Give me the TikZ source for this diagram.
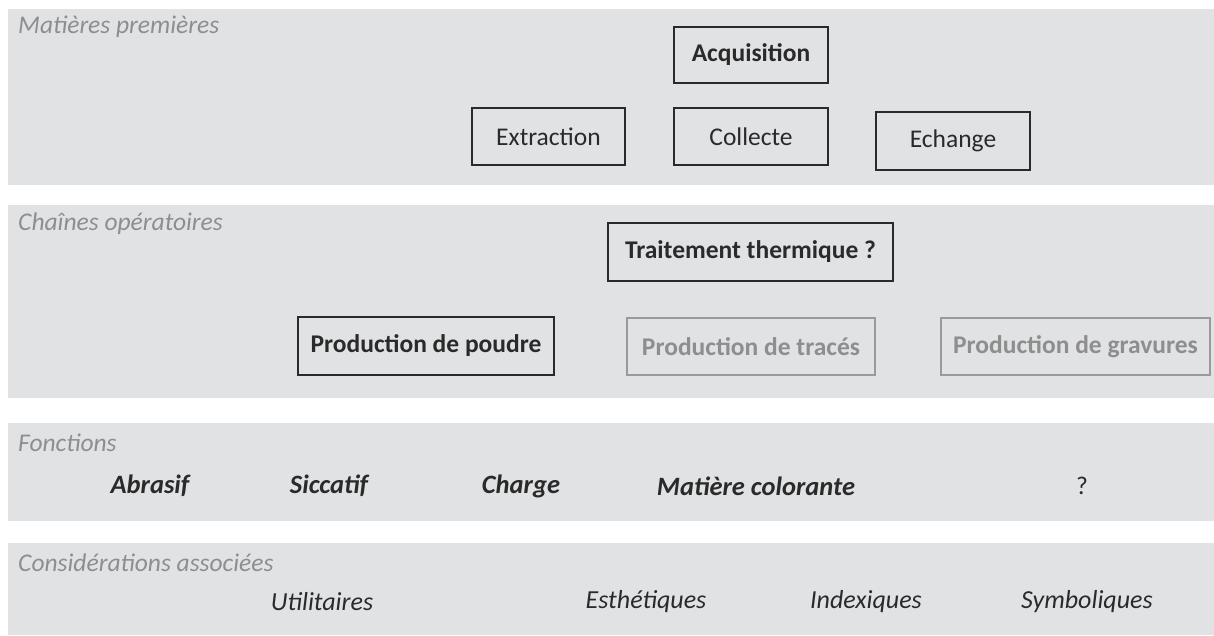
\documentclass[tikz,border=0pt]{standalone}
\usepackage{fontspec}
\setmainfont{Carlito}
\definecolor{band}{HTML}{E1E2E4}
\definecolor{ink}{HTML}{2A2A2A}
\definecolor{soft}{HTML}{8E8E8E}
\definecolor{softline}{HTML}{9A9A9A}
\newcommand{\fsz}{\fontsize{25.5}{30}\selectfont}
\begin{document}
\begin{tikzpicture}[x=1pt,y=-1pt,
  every node/.style={font=\fsz},
  bandbox/.style={fill=band,draw=none},
  bandlabel/.style={anchor=west,text=soft,font=\fsz\itshape,inner sep=0pt},
  boxreg/.style={draw=ink,line width=2pt,text=ink,inner sep=0pt},
  boxbold/.style={boxreg,font=\fsz\bfseries},
  boxsoft/.style={draw=softline,line width=1.6pt,text=soft,inner sep=0pt,font=\fsz\bfseries},
  fonc/.style={text=ink,inner sep=0pt,font=\fontsize{26.5}{30}\selectfont\bfseries\itshape},
  plainq/.style={text=ink,inner sep=0pt,font=\fsz},
  consid/.style={text=ink,inner sep=0pt,font=\fontsize{26}{30}\selectfont\itshape}]
\useasboundingbox (0,0) rectangle (1214,635);
\fill[white] (0,0) rectangle (1214,635);
% bands
\fill[bandbox] (8,9) rectangle (1214,185);
\fill[bandbox] (8,205) rectangle (1214,398);
\fill[bandbox] (8,423) rectangle (1214,521);
\fill[bandbox] (8,543) rectangle (1214,635);
% band labels
\node[bandlabel] (l1) at (18,27) {Matières premières};
\node[bandlabel] (l2) at (18,224) {Chaînes opératoires};
\node[bandlabel] (l3) at (18,443) {Fonctions};
\node[bandlabel] (l4) at (18,563) {Considérations associées};
% matieres premieres
\node[boxbold,minimum width=154pt,minimum height=56pt] (acq) at (751,55) {Acquisition};
\node[boxreg,minimum width=153pt,minimum height=57pt] (ext) at (548.5,136.5) {Extraction};
\node[boxreg,minimum width=154pt,minimum height=57pt] (col) at (751,136.5) {Collecte};
\node[boxreg,minimum width=154pt,minimum height=58pt] (ech) at (953,140.5) {Echange};
% chaines operatoires
\node[boxbold,minimum width=285pt,minimum height=58pt] (tt) at (750.5,252) {Traitement thermique ?};
\node[boxbold,minimum width=256pt,minimum height=58pt] (pp) at (426,346) {Production de poudre};
\node[boxsoft,minimum width=248pt,minimum height=57pt] (pt) at (751,346.5) {Production de tracés};
\node[boxsoft,minimum width=269pt,minimum height=57pt] (pg) at (1075.5,346.5) {Production de gravures};
% fonctions
\node[fonc] (f1) at (150,486) {Abrasif};
\node[fonc] (f2) at (329,486) {Siccatif};
\node[fonc] (f3) at (521,486) {Charge};
\node[fonc] (f4) at (756,486) {Matière colorante};
\node[plainq] (f5) at (1082,486) {?};
% considerations
\node[consid] (c1) at (322,602) {Utilitaires};
\node[consid] (c2) at (646,602) {Esthétiques};
\node[consid] (c3) at (866,602) {Indexiques};
\node[consid] (c4) at (1087,602) {Symboliques};
\end{tikzpicture}
\end{document}
